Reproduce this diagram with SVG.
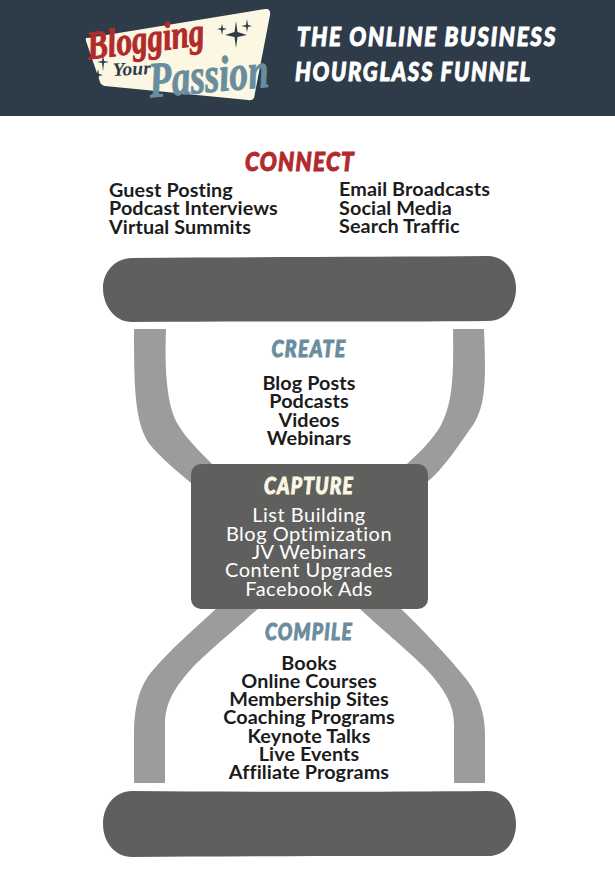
<svg xmlns="http://www.w3.org/2000/svg" width="615" height="879" viewBox="0 0 615 879">
<style>
.body{font-family:"Lato","Noto Sans",sans-serif;font-size:19.800px;font-weight:700;fill:#1c1c1c;letter-spacing:.1px}
.mid{text-anchor:middle}
.lt{fill:#fff;font-weight:400;font-size:20px;letter-spacing:.5px}
.head{font-family:"Lato","Liberation Sans",sans-serif;font-weight:900;font-style:italic;text-anchor:middle;letter-spacing:1.500px;stroke-width:1px;paint-order:stroke}
.band{fill:#9c9c9a}
.dark{fill:#5f605d}
.star{fill:#2e3b49}
.script{font-family:"Liberation Serif",serif;font-style:italic;font-weight:700;text-anchor:middle}
</style>
<rect id="header" width="615" height="116" fill="#2e3b49"/>
<g id="logo">
<path d="M88 38Q85 37 86 41L100 82Q101 85 105 86L248 100Q252 101 254 98L270 15Q271 8 265 9Z" fill="#fbf7e3"/>
<path class="star" d="M236 21L237.500 32L247 35L237.500 37L236 48L234.500 37L225 35L234.500 32ZM247 19L248 25L252 26L248 27L247 32L246 27L241 26L246 25ZM222 24L223 28L227 29L223 30L222 35L221 30L217 29L221 28ZM103 54L104 61L109 62L104 63L103 71L102 63L97 62L102 61ZM98 69L99 74L103 75L99 76L98 80L97 76L93 75L97 74Z"/>
<text class="script" x="147" y="52" transform="rotate(-7 147 52)" font-size="40" fill="#b22a2c" stroke="#b22a2c" stroke-width="1" textLength="118" lengthAdjust="spacingAndGlyphs">Blogging</text>
<text class="script" x="132" y="75" transform="rotate(-3 132 75)" font-size="19" fill="#2e3b49" textLength="38" lengthAdjust="spacingAndGlyphs">Your</text>
<text class="script" x="210" y="92" transform="rotate(-5 210 92)" font-size="50" fill="#6a8d9e" stroke="#6a8d9e" stroke-width="1" textLength="120" lengthAdjust="spacingAndGlyphs">Passion</text>
</g>
<g id="title" fill="#fff" stroke="#fff" stroke-width="1" style="font-family:'Lato','Liberation Sans',sans-serif;font-weight:900;font-style:italic;font-size:26px;letter-spacing:2px">
<text x="297" y="46" textLength="260" lengthAdjust="spacingAndGlyphs">THE ONLINE BUSINESS</text>
<text x="295" y="81" textLength="237" lengthAdjust="spacingAndGlyphs">HOURGLASS FUNNEL</text>
</g>
<g id="connectors">
<path class="band" d="M134 329H166C165 360 165 400 177 423C185 437 200 452 212 464L195 486C175 470 155 452 148 442C135 420 134 390 134 329Z"/>
<path class="band" d="M453 329L484 329C486 380 486 405 473 425C462 440 445 468 425 484L407 464C420 452 432 440 440 427C452 405 454 380 453 329Z"/>
<path class="band" d="M218 607H260C240 625 210 650 193 667C172 690 165 705 165 725V783H134V735C134 705 140 685 153 670C170 650 195 628 218 607Z"/>
<path class="band" d="M358 607H399C420 627 447 655 467 680C480 697 485 715 485 735V783H454V725C454 705 445 690 427 670C410 652 380 628 358 607Z"/>
</g>
<g id="connect">
<text class="head" x="300" y="171" font-size="27" fill="#b22a2c" stroke="#b22a2c" textLength="110" lengthAdjust="spacingAndGlyphs">CONNECT</text>
<text class="body" x="109" y="197">Guest Posting</text>
<text class="body" x="109" y="215">Podcast Interviews</text>
<text class="body" x="109" y="234">Virtual Summits</text>
<text class="body" x="339" y="196">Email Broadcasts</text>
<text class="body" x="339" y="215">Social Media</text>
<text class="body" x="339" y="233">Search Traffic</text>
</g>
<path id="top-bar" class="dark" d="M132 258C250 257 380 257 488 256C505 256 516 272 516 288C516 306 506 321 488 321C380 322 250 321 132 322C115 322 103 306 103 288C103 272 115 258 132 258Z"/>
<g id="create">
<text class="head" x="309" y="357" font-size="23" fill="#6a8d9e" stroke="#6a8d9e" textLength="75" lengthAdjust="spacingAndGlyphs">CREATE</text>
<text class="body mid" x="309" y="390">Blog Posts</text>
<text class="body mid" x="309" y="408">Podcasts</text>
<text class="body mid" x="309" y="427">Videos</text>
<text class="body mid" x="309" y="445">Webinars</text>
</g>
<g id="capture">
<rect class="dark" x="191" y="464" width="237" height="145" rx="10"/>
<text class="head" x="309" y="494" font-size="23" fill="#fbf7e3" stroke="#fbf7e3" textLength="90" lengthAdjust="spacingAndGlyphs">CAPTURE</text>
<text class="body mid lt" x="309" y="522">List Building</text>
<text class="body mid lt" x="309" y="541">Blog Optimization</text>
<text class="body mid lt" x="309" y="559">JV Webinars</text>
<text class="body mid lt" x="309" y="577">Content Upgrades</text>
<text class="body mid lt" x="309" y="596">Facebook Ads</text>
</g>
<g id="compile">
<text class="head" x="309" y="640" font-size="23" fill="#6a8d9e" stroke="#6a8d9e" textLength="88" lengthAdjust="spacingAndGlyphs">COMPILE</text>
<text class="body mid" x="309" y="670">Books</text>
<text class="body mid" x="309" y="688">Online Courses</text>
<text class="body mid" x="309" y="706">Membership Sites</text>
<text class="body mid" x="309" y="724">Coaching Programs</text>
<text class="body mid" x="309" y="743">Keynote Talks</text>
<text class="body mid" x="309" y="761">Live Events</text>
<text class="body mid" x="309" y="779">Affiliate Programs</text>
</g>
<path id="bottom-bar" class="dark" d="M132 791C250 792 380 792 488 791C505 791 516 806 516 824C516 842 505 856 488 856C380 856 250 856 132 857C115 857 103 842 103 824C103 806 115 791 132 791Z"/>
</svg>
